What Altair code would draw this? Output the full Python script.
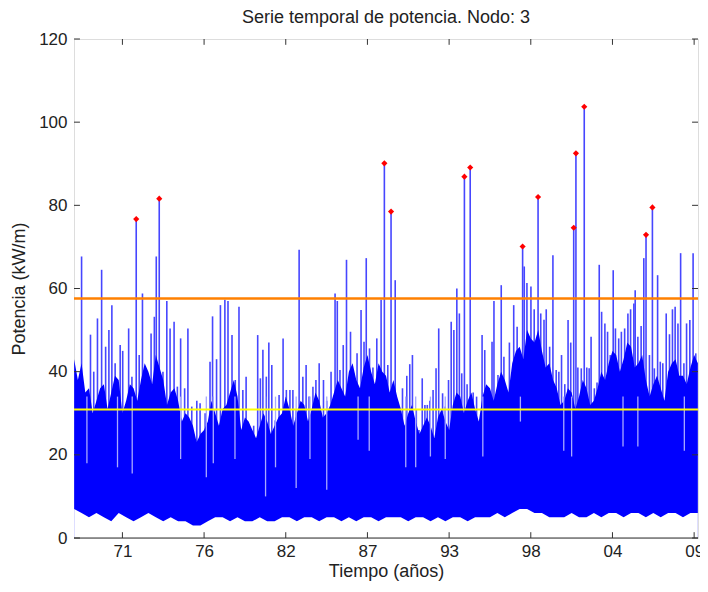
import altair as alt
import pandas as pd

# ---------------- data ----------------
# tall individual excursions of the power series (decimal year, kW/m)
spike_year = [1968.25, 1968.85, 1969.07, 1969.32, 1969.60, 1969.87, 1970.09, 1970.29, 1970.51, 1970.85,
              1971.02, 1971.42, 1971.64, 1972.13, 1972.35, 1972.62, 1972.93, 1973.15, 1973.28, 1973.73,
              1973.99, 1974.21, 1974.48, 1974.70, 1974.92, 1975.19, 1975.41, 1975.67, 1976.01, 1976.23,
              1976.57, 1976.90, 1977.07, 1977.34, 1977.60, 1977.90, 1978.11,
              1978.38, 1978.60, 1978.85, 1979.11, 1979.33, 1979.62, 1979.84, 1980.11, 1980.29, 1980.46,
              1980.69, 1980.86, 1981.06, 1981.29, 1981.55, 1981.82, 1982.04, 1982.28, 1982.48, 1982.70,
              1982.90, 1983.15, 1983.37, 1983.57, 1983.83, 1984.03, 1984.25, 1984.54, 1984.76, 1985.05,
              1985.32, 1985.47, 1985.65, 1985.87, 1986.09, 1986.36, 1986.56, 1986.80, 1987.07, 1987.27,
              1987.42, 1987.64, 1987.87, 1988.13, 1988.42, 1988.87,
              1989.37, 1989.60, 1989.86, 1990.15, 1990.35, 1990.53, 1990.79, 1990.97, 1991.19, 1991.37,
              1991.53, 1991.70, 1991.92, 1992.12, 1992.30, 1992.56, 1992.74, 1992.96, 1993.14, 1993.32,
              1993.52, 1993.69, 1993.85, 1994.21, 1994.62, 1994.85, 1995.22, 1995.40, 1995.67, 1995.89,
              1996.02, 1996.29, 1996.51, 1996.69, 1996.91, 1997.06, 1997.35, 1997.58, 1998.06, 1998.24,
              1998.51, 1998.73, 1999.17, 1999.39,
              1999.54, 1999.77, 1999.99, 2000.21, 2000.39, 2000.57, 2000.79, 2001.01, 2001.19, 2001.67,
              2001.90, 2002.27, 2002.43, 2002.56, 2002.78, 2002.96, 2003.11, 2003.27, 2003.49, 2003.67,
              2003.85, 2004.05, 2004.20, 2004.42, 2004.60, 2004.82, 2005.04, 2005.22, 2005.44, 2005.53,
              2005.71, 2005.93, 2006.11, 2006.49, 2006.82, 2007.04, 2007.22, 2007.39, 2007.62, 2007.84,
              2008.04, 2008.22, 2008.41, 2008.59, 2008.81, 2008.99, 2009.21, 2009.43, 2009.61]
spike_value = [67.7, 48.9, 40, 52.8, 64.5, 46, 50, 56, 42, 46.4,
               45, 50.4, 38.8, 44, 58.8, 39.6, 49.2, 53.2, 67.7, 40,
               57, 50.4, 52, 36.4, 48, 36, 50.4, 31.6, 33, 32.4,
               30, 42.4, 53.3, 43, 56, 57.3, 57,
               48.8, 38, 55.6, 35.6, 38.8, 26, 27, 48.8, 38.4, 45.3,
               38.8, 47, 41.6, 28.3, 34.4, 48, 35.6, 35.6, 35.6, 30.8,
               69.3, 38.8, 41.6, 34, 36.4, 38, 42, 38, 33, 40,
               58.8, 57, 40.4, 46.4, 66.9, 49.6, 39.6, 44.4, 54.8, 47.2,
               67.3, 45.6, 41, 48, 57.3, 41.6,
               62, 31.6, 36, 39, 41.8, 44, 30.8, 26, 38.4, 32,
               32, 33, 35.6, 40.8, 50.4, 34.8, 31.6, 38, 52, 50,
               60, 54, 39.6, 37, 35, 34, 48.8, 45.2, 35.6, 47.2,
               57, 39.2, 60.8, 43.6, 33, 47, 56, 50.8, 65.3, 61.3,
               60.5, 55, 54, 52.5,
               55, 46, 68, 40.4, 40, 44, 37, 52.4, 47, 41,
               40.8, 41, 40.8, 48.4, 36, 37.4, 65.7, 54.4, 51.6, 49.6,
               44, 64.4, 50.4, 48, 49.6, 50.4, 54, 55, 56.4, 59.6,
               48.4, 51, 67.3, 44, 40.8, 63.2, 42.4, 42, 54, 49,
               55, 55.6, 51.6, 68.5, 42, 51.6, 52.4, 68.5, 44.4]

# storm peaks marked in red
peak_year = [1971.93, 1973.48, 1988.64, 1989.09, 1994.03, 1994.42, 1997.95,
             1998.99, 2001.39, 2001.54, 2002.10, 2006.26, 2006.69]
peak_value = [76.7, 81.6, 90.1, 78.5, 86.9, 89.1, 70.1,
              82.0, 74.6, 92.5, 103.7, 72.9, 79.5]

# deep lulls that cut light streaks down into the dense body
dip_year = [1968.61, 1970.67, 1971.66, 1974.92, 1976.65, 1977.12, 1978.58, 1980.64, 1981.31,
            1982.70, 1983.63, 1984.76, 1986.87, 1987.62, 1990.08, 1990.75, 1991.74, 1992.74,
            1995.27, 1997.80, 2000.72, 2001.25, 2004.71, 2005.71, 2008.84]
dip_value = [18, 17, 15.5, 19, 14.6, 18, 19, 10, 17,
             12, 19, 11.6, 23.6, 21, 17, 17, 19.6, 19,
             19.6, 28, 21, 19.6, 22, 22, 21]

# dense body of the series: upper envelope every quarter year from 1967.75
core_top = [43, 38, 42, 35, 36, 30, 33, 36, 37, 31, 35, 39, 38, 30, 33, 37, 36, 33, 38, 42,
            40, 37, 44, 41, 38, 32, 35, 36, 33, 28, 30, 29, 27, 23, 25, 26, 28, 33, 30, 27,
            31, 32, 35, 38, 34, 26, 29, 28, 26, 24, 27, 30, 28, 25, 27, 29, 30, 34, 31, 27,
            30, 33, 32, 28, 31, 35, 33, 29, 30, 32, 35, 38, 36, 34, 40, 42, 38, 36, 41, 44,
            40, 37, 42, 40, 39, 35, 38, 34, 31, 27, 30, 32, 28, 25, 27, 29, 27, 24, 29, 31,
            28, 26, 32, 35, 34, 30, 33, 35, 31, 28, 34, 37, 36, 33, 37, 40, 38, 35, 42, 45,
            46, 43, 50, 48, 47, 50, 45, 41, 42, 38, 36, 32, 33, 36, 35, 31, 34, 38, 36, 32,
            33, 36, 40, 38, 42, 45, 44, 40, 43, 47, 46, 41, 42, 44, 38, 34, 37, 39, 36, 33,
            40, 42, 43, 39, 39, 37, 41, 44, 42]
core_year = [1967.75 + 0.25 * i for i in range(len(core_top))]

# lower envelope every half year from 1967.75
core_low = [7, 6, 5, 6, 5, 4, 6, 5, 4, 5,
            6, 5, 4, 5, 4, 4, 3, 3, 4, 5,
            5, 4, 5, 4, 4, 5, 4, 4, 5, 5,
            4, 5, 5, 4, 5, 5, 4, 5, 4, 5,
            5, 4, 5, 5, 5, 4, 5, 5, 4, 5,
            4, 5, 5, 4, 5, 5, 5, 6, 5, 6,
            7, 7, 6, 6, 5, 5, 5, 6, 5, 5,
            6, 5, 6, 6, 5, 6, 6, 5, 6, 5,
            6, 6, 5, 6, 6]
low_year = [1967.75 + 0.5 * i for i in range(len(core_low))]

# thresholds
upper_threshold = 57.6
lower_threshold = 30.9

# axes
x_ticks = [1971, 1976.5, 1982, 1987.5, 1993, 1998.5, 2004, 2009.5]
y_ticks = [0, 20, 40, 60, 80, 100, 120]
x_min, x_max = 1967.74, 2009.76

FONT = "Liberation Sans"
TXT = "#222222"
BOX = "#333333"

# ---------------- chart ----------------
xscale = alt.Scale(domain=[x_min, x_max], nice=False, zero=False)
yscale = alt.Scale(domain=[0, 120], nice=False)

xaxis = alt.Axis(values=x_ticks, labelExpr="substring(toString(floor(datum.value)), 2, 4)",
                 tickSize=0, domain=False, grid=False, labelPadding=5, labelFontSize=17,
                 titleFontSize=18, titleFontWeight="normal", titlePadding=3.5,
                 labelColor=TXT, titleColor=TXT, labelFont=FONT, titleFont=FONT)
yaxis = alt.Axis(values=y_ticks, tickSize=0, domain=False, grid=False, labelPadding=7,
                 labelFontSize=17, titleFontSize=18, titleFontWeight="normal", titlePadding=10,
                 labelColor=TXT, titleColor=TXT, labelFont=FONT, titleFont=FONT)

X = alt.X("t:Q", scale=xscale, axis=xaxis, title="Tiempo (años)")
Y = alt.Y("v:Q", scale=yscale, axis=yaxis, title="Potencia (kW/m)")

core_df = pd.DataFrame({"t": core_year, "v": core_top})
core_df["v2"] = 0
low_df = pd.DataFrame({"t": low_year, "v": core_low})
low_df["v2"] = 0
spk_df = pd.DataFrame({"t": spike_year + peak_year, "v": spike_value + peak_value})
spk_df["v2"] = 12
dip_df = pd.DataFrame({"t": dip_year, "v": dip_value})
dip_df["v2"] = 34
peak_df = pd.DataFrame({"t": peak_year, "v": peak_value})

spikes = alt.Chart(spk_df).mark_rule(color="#4646ff", strokeWidth=1.6).encode(x=X, y=Y, y2="v2:Q")
core = alt.Chart(core_df).mark_area(color="#0000ff", opacity=1).encode(x=X, y=Y, y2="v2:Q")
dips = alt.Chart(dip_df).mark_rule(color="#a8a8ff", strokeWidth=1.3).encode(x=X, y=Y, y2="v2:Q")
low = alt.Chart(low_df).mark_area(color="white", opacity=1).encode(x=X, y=Y, y2="v2:Q")

orange = alt.Chart(pd.DataFrame({"v": [upper_threshold]})).mark_rule(
    color="#ff8000", strokeWidth=2.5).encode(y=Y)
yellow = alt.Chart(pd.DataFrame({"v": [lower_threshold]})).mark_rule(
    color="#ffff00", strokeWidth=2).encode(y=Y)

peaks = alt.Chart(peak_df).mark_point(shape="diamond", filled=True, color="#ff0000",
                                      size=38, opacity=1).encode(x=X, y=Y)

# inward tick marks (MATLAB style) and the bottom frame line
tick_len_y = 1.4
tick_len_x = 0.4
bt = pd.DataFrame({"t": x_ticks, "v": [0] * len(x_ticks), "v2": [tick_len_y] * len(x_ticks)})
tt = pd.DataFrame({"t": x_ticks, "v": [120] * len(x_ticks), "v2": [120 - tick_len_y] * len(x_ticks)})
lt = pd.DataFrame({"v": y_ticks, "t": [x_min] * len(y_ticks), "t2": [x_min + tick_len_x] * len(y_ticks)})
rt = pd.DataFrame({"v": y_ticks, "t": [x_max] * len(y_ticks), "t2": [x_max - tick_len_x] * len(y_ticks)})
xt = alt.Chart(pd.concat([bt, tt])).mark_rule(color=BOX, strokeWidth=1).encode(x=X, y=Y, y2="v2:Q")
yt = alt.Chart(pd.concat([lt, rt])).mark_rule(color=BOX, strokeWidth=1).encode(x=X, x2="t2:Q", y=Y)
base_line = alt.Chart(pd.DataFrame({"v": [0]})).mark_rule(color=BOX, strokeWidth=1).encode(y=Y)

chart = alt.layer(spikes, core, dips, low, orange, yellow, peaks, xt, yt, base_line).properties(
    width=624, height=499,
    title=alt.TitleParams("Serie temporal de potencia. Nodo: 3", font=FONT, fontSize=18,
                          fontWeight="normal", color=TXT, offset=3),
    padding={"left": 66, "top": 31, "right": 2, "bottom": 46},
    autosize=alt.AutoSizeParams(type="none"),
).configure_view(stroke=BOX, strokeWidth=1).configure(background="white")

chart.save("out.html", embed_options={"renderer": "svg", "actions": False})
